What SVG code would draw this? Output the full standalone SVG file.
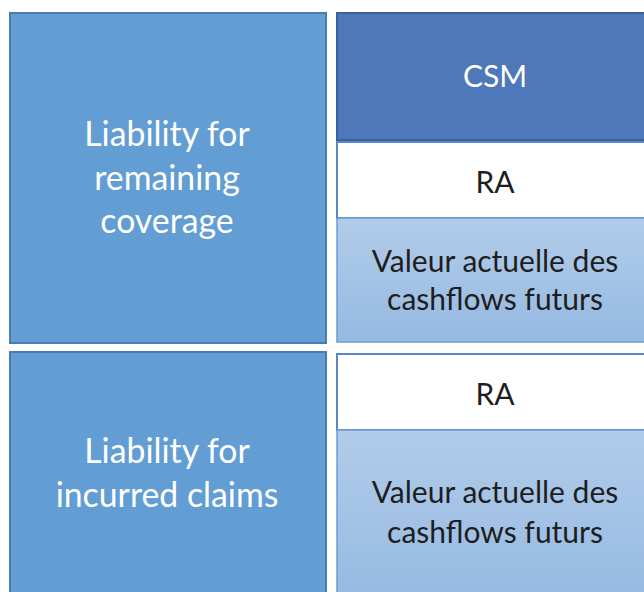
<svg xmlns="http://www.w3.org/2000/svg" width="644" height="592" viewBox="0 0 644 592">
<style>
.lbox{fill:#629ED3;stroke:#4C7CAE;stroke-width:2}
.csm{fill:#4E78BA;stroke:#3D609A;stroke-width:2}
.ra{fill:#FFFFFF;stroke:#5B86C6;stroke-width:2}
.val{fill:url(#g);stroke:#6E9AD2;stroke-width:1.5}
.tw{fill:#FFFFFF;font-family:Lato,"Open Sans",sans-serif;text-anchor:middle}
.tb{fill:#1E1E1E;font-family:Lato,"Open Sans",sans-serif;text-anchor:middle}
.big{font-size:33.8px}
.sm{font-size:30px}
</style>
<defs>
<linearGradient id="g" x1="0" y1="0" x2="0" y2="1">
<stop offset="0" stop-color="#B1CCE9"/>
<stop offset="1" stop-color="#96B9E2"/>
</linearGradient>
</defs>
<rect width="644" height="592" fill="#FFFFFF"/>
<g id="lrc">
<rect class="lbox" x="10" y="13" width="316" height="330"/>
<text class="tw big" x="167" y="146">Liability for</text>
<text class="tw big" x="167" y="190">remaining</text>
<text class="tw big" x="167" y="233">coverage</text>
</g>
<g id="lic">
<rect class="lbox" x="10" y="352" width="316" height="250"/>
<text class="tw big" x="167" y="463">Liability for</text>
<text class="tw big" x="167" y="507">incurred claims</text>
</g>
<g id="csm">
<rect class="csm" x="337" y="13" width="320" height="127"/>
<text class="tw sm" x="495" y="87">CSM</text>
</g>
<g id="ra1">
<rect class="ra" x="337" y="142" width="320" height="76"/>
<text class="tb sm" x="495" y="193">RA</text>
</g>
<g id="val1">
<rect class="val" x="337" y="218" width="320" height="124"/>
<text class="tb sm" x="495" y="272">Valeur actuelle des</text>
<text class="tb sm" x="495" y="310">cashflows futurs</text>
</g>
<g id="ra2">
<rect class="ra" x="337" y="354" width="320" height="76"/>
<text class="tb sm" x="495" y="405">RA</text>
</g>
<g id="val2">
<rect class="val" x="337" y="430" width="320" height="172"/>
<text class="tb sm" x="495" y="503">Valeur actuelle des</text>
<text class="tb sm" x="495" y="543">cashflows futurs</text>
</g>
<g id="connectors"/>
</svg>
